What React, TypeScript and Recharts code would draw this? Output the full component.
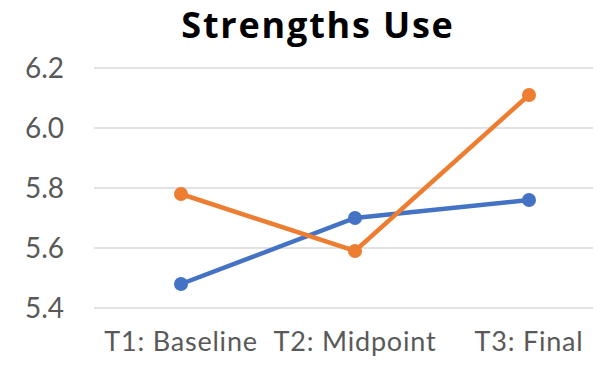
import { LineChart, Line, XAxis, YAxis, CartesianGrid } from "recharts";

const categories = ["T1: Baseline", "T2: Midpoint", "T3: Final"];
const seriesBlue = [5.48, 5.7, 5.76];
const seriesOrange = [5.78, 5.59, 6.11];
const yTicks = [5.4, 5.6, 5.8, 6.0, 6.2];

const data = categories.map((name, i) => ({
  name,
  blue: seriesBlue[i],
  orange: seriesOrange[i],
}));

const font = "Lato, 'Open Sans', sans-serif";

export default function App() {
  return (
    <div style={{ margin: -8, width: 601, height: 365, overflow: "hidden", position: "relative", background: "#fff" }}>
      <div
        style={{
          position: "absolute",
          top: 0,
          left: 118,
          width: 400,
          textAlign: "center",
          fontFamily: "'Open Sans', sans-serif",
          fontWeight: 700,
          fontSize: 36,
          letterSpacing: 1.8,
          color: "#000",
          lineHeight: "normal",
        }}
      >
        Strengths Use
      </div>
      <LineChart width={620} height={365} data={data} margin={{ top: 68, right: 4, left: 0, bottom: 0 }}>
        <CartesianGrid vertical={false} stroke="#d9d9d9" strokeWidth={1.5} />
        <XAxis
          dataKey="name"
          axisLine={false}
          tickLine={false}
          tickSize={0}
          tickMargin={24}
          height={57}
          padding={{ left: 87, right: 87 }}
          interval={0}
          tick={{ fill: "#595959", fontSize: 27, fontFamily: font, letterSpacing: 0.8 }}
        />
        <YAxis
          domain={[5.4, 6.2]}
          ticks={yTicks}
          tickFormatter={(v: number) => v.toFixed(1)}
          axisLine={false}
          tickLine={false}
          tickSize={0}
          tickMargin={30}
          width={94}
          tick={{ fill: "#595959", fontSize: 28, fontFamily: font }}
        />
        <Line
          dataKey="blue"
          stroke="#4472c4"
          strokeWidth={4.5}
          dot={{ r: 7, fill: "#4472c4", stroke: "none" }}
          isAnimationActive={false}
        />
        <Line
          dataKey="orange"
          stroke="#ed7d31"
          strokeWidth={4.5}
          dot={{ r: 7, fill: "#ed7d31", stroke: "none" }}
          isAnimationActive={false}
        />
      </LineChart>
    </div>
  );
}
